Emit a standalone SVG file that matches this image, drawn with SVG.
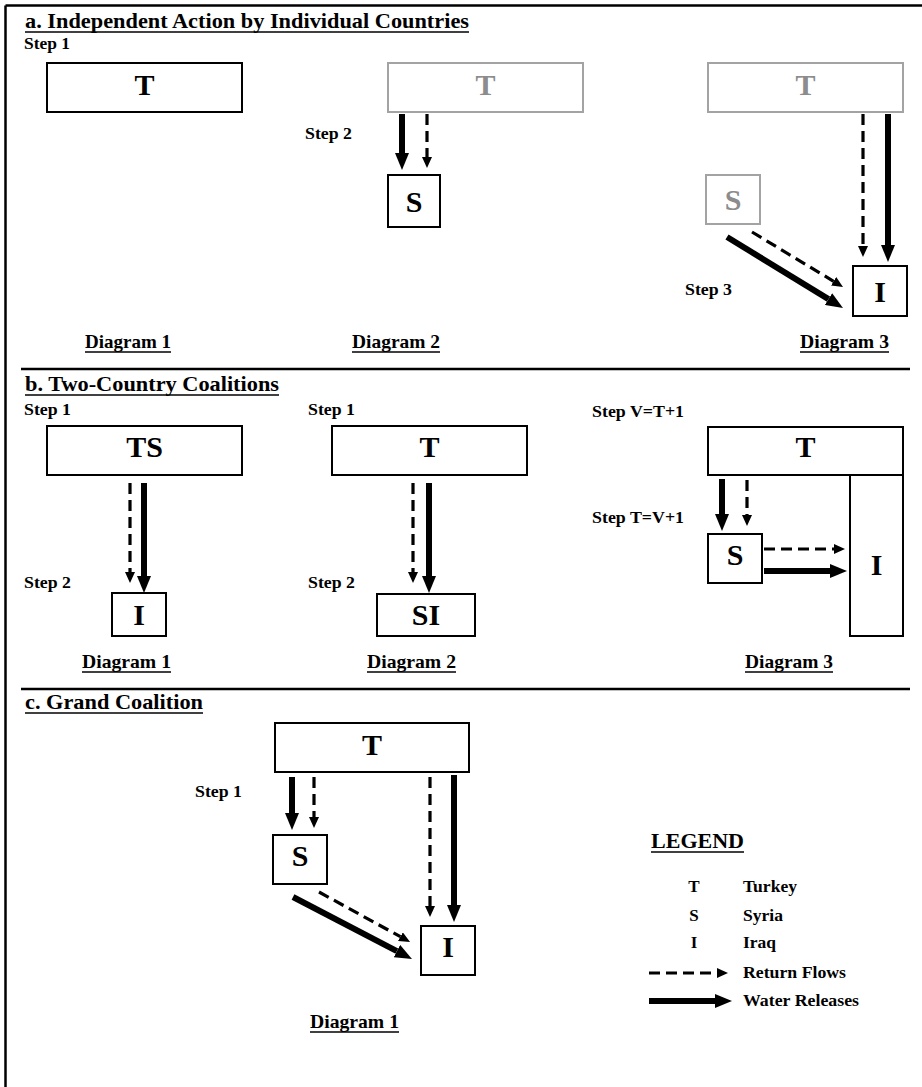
<svg xmlns="http://www.w3.org/2000/svg" width="922" height="1087" viewBox="0 0 922 1087">
<style>
text{font-family:"Liberation Serif","Times New Roman",serif;font-weight:bold;fill:#000}
.box{fill:#fff;stroke:#000;stroke-width:2}
.gbox{fill:#fff;stroke:#a3a3a3;stroke-width:2}
.lbl{font-size:30px;text-anchor:middle}
.glbl{font-size:30px;text-anchor:middle;fill:#8c8c8c}
.step{font-size:17px}
.ttl{font-size:22px}
.dg{font-size:19px}
.rule{stroke:#000;stroke-width:2.5}
.ul{stroke:#000;stroke-width:1.5}
.sol{stroke:#000;stroke-width:6;fill:none;marker-end:url(#hs)}
.dsh{stroke:#000;stroke-width:3.2;fill:none;stroke-dasharray:11 6;marker-end:url(#hd)}
</style>
<defs>
<marker id="hs" markerWidth="17" markerHeight="14" refX="0" refY="7" orient="auto" markerUnits="userSpaceOnUse"><path d="M0,0 L17,7 L0,14 Z" fill="#000"/></marker>
<marker id="hd" markerWidth="11" markerHeight="10" refX="0" refY="5" orient="auto" markerUnits="userSpaceOnUse"><path d="M0,0 L11,5 L0,10 Z" fill="#000"/></marker>
</defs>
<rect width="922" height="1087" fill="#fff"/>
<g id="frame">
<line x1="5.5" y1="5.5" x2="922" y2="5.5" class="rule"/>
<line x1="5.5" y1="5.5" x2="5.5" y2="1087" class="rule"/>
<line x1="21" y1="369" x2="910" y2="369" class="rule"/>
<line x1="21" y1="689" x2="910" y2="689" class="rule"/>
</g>
<g id="labels">
<text x="25" y="28" class="ttl" textLength="444" lengthAdjust="spacingAndGlyphs">a. Independent Action by Individual Countries</text>
<line x1="25" y1="32" x2="469" y2="32" class="ul"/>
<text x="24" y="49" class="step" textLength="46" lengthAdjust="spacingAndGlyphs">Step 1</text>
<text x="305" y="139" class="step" textLength="47" lengthAdjust="spacingAndGlyphs">Step 2</text>
<text x="685" y="295" class="step" textLength="47" lengthAdjust="spacingAndGlyphs">Step 3</text>
<text x="85" y="348" class="dg" textLength="86" lengthAdjust="spacingAndGlyphs">Diagram 1</text>
<line x1="85" y1="352" x2="171" y2="352" class="ul"/>
<text x="352" y="348" class="dg" textLength="88" lengthAdjust="spacingAndGlyphs">Diagram 2</text>
<line x1="352" y1="352" x2="440" y2="352" class="ul"/>
<text x="800" y="348" class="dg" textLength="89" lengthAdjust="spacingAndGlyphs">Diagram 3</text>
<line x1="800" y1="352" x2="889" y2="352" class="ul"/>

<text x="25" y="391" class="ttl" textLength="254" lengthAdjust="spacingAndGlyphs">b. Two-Country Coalitions</text>
<line x1="25" y1="395" x2="279" y2="395" class="ul"/>
<text x="24" y="415" class="step" textLength="47" lengthAdjust="spacingAndGlyphs">Step 1</text>
<text x="24" y="588" class="step" textLength="47" lengthAdjust="spacingAndGlyphs">Step 2</text>
<text x="82" y="668" class="dg" textLength="89" lengthAdjust="spacingAndGlyphs">Diagram 1</text>
<line x1="82" y1="672" x2="171" y2="672" class="ul"/>
<text x="308" y="415" class="step" textLength="47" lengthAdjust="spacingAndGlyphs">Step 1</text>
<text x="308" y="588" class="step" textLength="47" lengthAdjust="spacingAndGlyphs">Step 2</text>
<text x="367" y="668" class="dg" textLength="89" lengthAdjust="spacingAndGlyphs">Diagram 2</text>
<line x1="367" y1="672" x2="456" y2="672" class="ul"/>
<text x="592" y="417" class="step" textLength="92" lengthAdjust="spacingAndGlyphs">Step V=T+1</text>
<text x="592" y="523" class="step" textLength="92" lengthAdjust="spacingAndGlyphs">Step T=V+1</text>
<text x="745" y="668" class="dg" textLength="88" lengthAdjust="spacingAndGlyphs">Diagram 3</text>
<line x1="745" y1="672" x2="833" y2="672" class="ul"/>

<text x="25" y="709" class="ttl" textLength="178" lengthAdjust="spacingAndGlyphs">c. Grand Coalition</text>
<line x1="25" y1="713" x2="203" y2="713" class="ul"/>
<text x="195" y="797" class="step" textLength="47" lengthAdjust="spacingAndGlyphs">Step 1</text>
<text x="310" y="1028" class="dg" textLength="89" lengthAdjust="spacingAndGlyphs">Diagram 1</text>
<line x1="310" y1="1032" x2="399" y2="1032" class="ul"/>
</g>
<g id="a-d1-T"><rect x="47" y="63" width="195" height="49" class="box"/><text x="144.5" y="95" class="lbl">T</text></g>
<g id="a-d2-T"><rect x="388" y="63" width="195" height="49" class="gbox"/><text x="485.5" y="95" class="glbl">T</text></g>
<g id="a-d2-S"><rect x="388" y="175" width="52" height="52" class="box"/><text x="414" y="212" class="lbl">S</text></g>
<g id="a-d3-T"><rect x="708" y="63" width="195" height="49" class="gbox"/><text x="805.5" y="95" class="glbl">T</text></g>
<g id="a-d3-S"><rect x="706" y="175" width="54" height="49" class="gbox"/><text x="733" y="210" class="glbl">S</text></g>
<g id="a-d3-I"><rect x="853" y="266" width="54" height="50" class="box"/><text x="880" y="302" class="lbl">I</text></g>

<g id="b-d1-TS"><rect x="47" y="426" width="195" height="49" class="box"/><text x="144.5" y="457" class="lbl">TS</text></g>
<g id="b-d1-I"><rect x="112" y="593" width="54" height="43" class="box"/><text x="139" y="625" class="lbl">I</text></g>
<g id="b-d2-T"><rect x="332" y="426" width="195" height="49" class="box"/><text x="429.5" y="457" class="lbl">T</text></g>
<g id="b-d2-SI"><rect x="377" y="594" width="98" height="42" class="box"/><text x="426" y="625" class="lbl">SI</text></g>
<g id="b-d3-T"><rect x="708" y="427" width="195" height="48" class="box"/><text x="805.5" y="457" class="lbl">T</text></g>
<g id="b-d3-I"><rect x="850" y="475" width="53" height="161" class="box"/><text x="876.5" y="575" class="lbl">I</text></g>
<g id="b-d3-S"><rect x="708" y="534" width="54" height="49" class="box"/><text x="735" y="565" class="lbl">S</text></g>

<g id="c-T"><rect x="275" y="723" width="194" height="49" class="box"/><text x="372" y="755" class="lbl">T</text></g>
<g id="c-S"><rect x="273" y="835" width="54" height="49" class="box"/><text x="300" y="866" class="lbl">S</text></g>
<g id="c-I"><rect x="421" y="926" width="54" height="49" class="box"/><text x="448" y="957" class="lbl">I</text></g>

<g id="connectors">
<line x1="402" y1="114" x2="402" y2="153" class="sol"/>
<line x1="427" y1="114" x2="427" y2="157" class="dsh"/>
<line x1="863" y1="114" x2="863" y2="246" class="dsh"/>
<line x1="888" y1="114" x2="888" y2="245" class="sol"/>
<line x1="727" y1="237" x2="828.5" y2="299.1" class="sol"/>
<line x1="752" y1="232" x2="833.6" y2="281.3" class="dsh"/>

<line x1="130" y1="483" x2="130" y2="572" class="dsh"/>
<line x1="144" y1="483" x2="144" y2="576" class="sol"/>
<line x1="413" y1="483" x2="413" y2="572" class="dsh"/>
<line x1="429" y1="483" x2="429" y2="576" class="sol"/>
<line x1="722" y1="479" x2="722" y2="514" class="sol"/>
<line x1="747" y1="480" x2="747" y2="515" class="dsh"/>
<line x1="764" y1="549" x2="834" y2="549" class="dsh"/>
<line x1="764" y1="571" x2="830" y2="571" class="sol"/>

<line x1="292" y1="777" x2="292" y2="813" class="sol"/>
<line x1="314" y1="777" x2="314" y2="817" class="dsh"/>
<line x1="430" y1="777" x2="430" y2="906" class="dsh"/>
<line x1="454" y1="775" x2="454" y2="905" class="sol"/>
<line x1="293" y1="897" x2="396.9" y2="951.1" class="sol"/>
<line x1="319" y1="892" x2="400.4" y2="936.7" class="dsh"/>
</g>
<g id="legend">
<text x="651" y="848" style="font-size:21px" textLength="93" lengthAdjust="spacingAndGlyphs">LEGEND</text>
<line x1="651" y1="852" x2="744" y2="852" class="ul"/>
<text x="694" y="892" class="step" text-anchor="middle">T</text>
<text x="743" y="892" class="step" textLength="54" lengthAdjust="spacingAndGlyphs">Turkey</text>
<text x="694" y="921" class="step" text-anchor="middle">S</text>
<text x="743" y="921" class="step" textLength="40" lengthAdjust="spacingAndGlyphs">Syria</text>
<text x="694" y="948" class="step" text-anchor="middle">I</text>
<text x="743" y="948" class="step" textLength="33" lengthAdjust="spacingAndGlyphs">Iraq</text>
<line x1="649" y1="973" x2="717" y2="973" class="dsh"/>
<text x="743" y="978" class="step" textLength="103" lengthAdjust="spacingAndGlyphs">Return Flows</text>
<line x1="649" y1="1001" x2="715" y2="1001" class="sol"/>
<text x="743" y="1006" class="step" textLength="116" lengthAdjust="spacingAndGlyphs">Water Releases</text>
</g>
</svg>
